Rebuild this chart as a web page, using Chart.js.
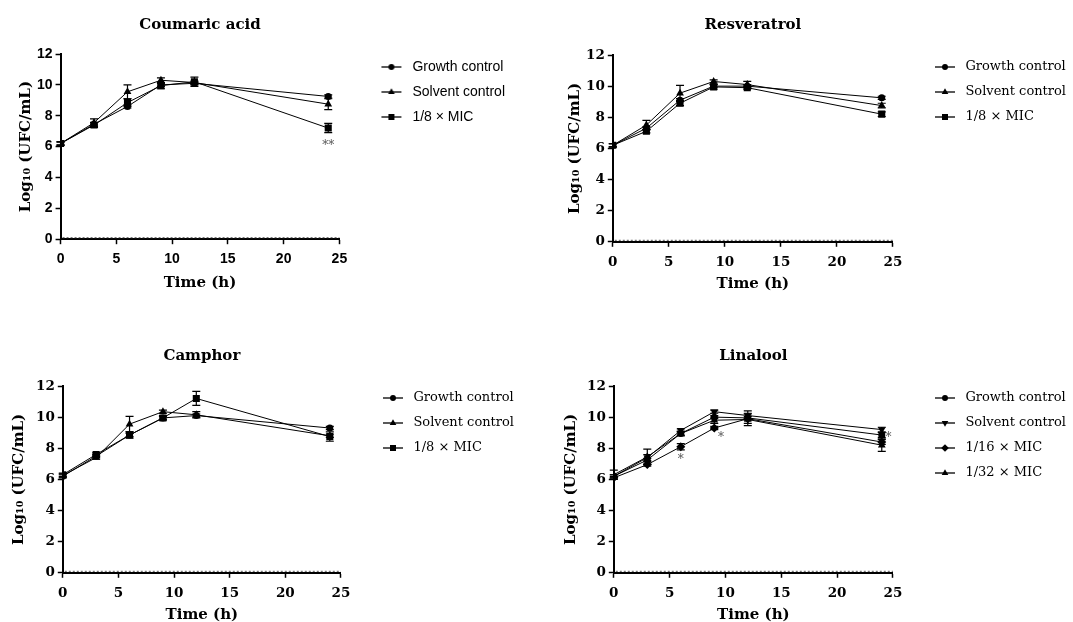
<!DOCTYPE html>
<html>
<head>
<meta charset="utf-8">
<script src="https://cdn.jsdelivr.net/npm/chart.js@4.4.1/dist/chart.umd.min.js"></script>
<style>
  html, body { margin: 0; padding: 0; background: #fff; overflow: hidden; }
  #wrap { position: relative; width: 1073px; height: 622px; }
  .panel { position: absolute; }
</style>
</head>
<body>
<div id="wrap">
  <div class="panel" style="left:0;top:0"><canvas id="coumaric" width="536" height="311"></canvas></div>
  <div class="panel" style="left:536px;top:0"><canvas id="resveratrol" width="537" height="311"></canvas></div>
  <div class="panel" style="left:0;top:311px"><canvas id="camphor" width="536" height="311"></canvas></div>
  <div class="panel" style="left:536px;top:311px"><canvas id="linalool" width="537" height="311"></canvas></div>
</div>
<script>
// sampling times (h)
const hours = [0, 3, 6, 9, 12, 24];

// Coumaric acid
const coumaricGrowth = [6.2, 7.45, 8.6, 10.0, 10.1, 9.25];
const coumaricGrowthSd = [0.1, 0.1, 0.1, 0.1, 0.1, 0.1];
const coumaricSolvent = [6.2, 7.55, 9.55, 10.3, 10.15, 8.75];
const coumaricSolventSd = [0.1, 0.25, 0.45, 0.15, 0.1, 0.35];
const coumaricMic8 = [6.2, 7.4, 8.85, 9.95, 10.2, 7.2];
const coumaricMic8Sd = [0.1, 0.15, 0.25, 0.2, 0.3, 0.3];
const coumaricStars = [{ x: 24, y: 6.2, text: '**' }];

// Resveratrol
const resvGrowth = [6.2, 7.3, 9.1, 10.0, 10.0, 9.25];
const resvGrowthSd = [0.1, 0.1, 0.1, 0.1, 0.1, 0.1];
const resvSolvent = [6.2, 7.5, 9.55, 10.3, 10.1, 8.75];
const resvSolventSd = [0.1, 0.3, 0.5, 0.1, 0.2, 0.15];
const resvMic8 = [6.2, 7.1, 8.9, 9.95, 9.9, 8.2];
const resvMic8Sd = [0.1, 0.1, 0.15, 0.15, 0.1, 0.15];

// Camphor
const camphorGrowth = [6.2, 7.5, 8.85, 9.95, 10.1, 9.3];
const camphorGrowthSd = [0.1, 0.1, 0.1, 0.1, 0.1, 0.1];
const camphorSolvent = [6.25, 7.4, 9.55, 10.35, 10.15, 8.8];
const camphorSolventSd = [0.1, 0.1, 0.5, 0.1, 0.2, 0.1];
const camphorMic8 = [6.3, 7.6, 8.85, 9.95, 11.2, 8.75];
const camphorMic8Sd = [0.1, 0.1, 0.2, 0.15, 0.45, 0.3];

// Linalool
const linGrowth = [6.2, 7.25, 8.95, 10.0, 9.95, 8.85];
const linGrowthSd = [0.1, 0.1, 0.1, 0.1, 0.1, 0.15];
const linSolvent = [6.2, 7.4, 9.15, 10.35, 10.1, 9.2];
const linSolventSd = [0.1, 0.2, 0.1, 0.1, 0.3, 0.15];
const linMic16 = [6.1, 6.95, 8.1, 9.3, 9.9, 8.4];
const linMic16Sd = [0.1, 0.1, 0.2, 0.1, 0.3, 0.15];
const linMic32 = [6.3, 7.45, 8.95, 9.8, 9.85, 8.2];
const linMic32Sd = [0.3, 0.5, 0.15, 0.2, 0.4, 0.4];
const linaloolStars = [{ x: 6, y: 7.4, text: '*' }, { x: 9.6, y: 8.8, text: '*' }, { x: 24.6, y: 8.8, text: '*' }];

const SERIF = "'DejaVu Serif', serif";
const SANS = "'Liberation Sans', Arial, sans-serif";

// marker shapes
const CIRCLE = { pointStyle: 'circle', radius: 3.5, rotation: 0 };
const TRIANGLE = { pointStyle: 'triangle', radius: 4.5, rotation: 0 };
const TRIANGLE_DOWN = { pointStyle: 'triangle', radius: 4.5, rotation: 180 };
const SQUARE = { pointStyle: 'rect', radius: 5, rotation: 0 };
const DIAMOND = { pointStyle: 'rectRot', radius: 4.5, rotation: 0 };

// legend swatch: line + marker, sitting at the right end of a wider blank strip
function legendIcon(marker, w) {
  const c = document.createElement('canvas');
  c.width = w; c.height = 12;
  const g = c.getContext('2d');
  g.strokeStyle = '#000'; g.fillStyle = '#000'; g.lineWidth = 1.3;
  g.beginPath(); g.moveTo(w - 24, 6); g.lineTo(w - 4, 6); g.stroke();
  Chart.helpers.drawPoint(g, { pointStyle: marker.pointStyle, rotation: marker.rotation, radius: marker.radius * 0.85, borderWidth: 0 }, w - 14, 6);
  return c;
}

function series(label, values, sd, marker) {
  return {
    label: label,
    data: values.map((v, i) => ({ x: hours[i], y: v })),
    sd: sd,
    marker: marker,
    borderColor: '#000',
    backgroundColor: '#000',
    borderWidth: 1,
    pointStyle: marker.pointStyle,
    pointRotation: marker.rotation,
    pointRadius: marker.radius,
    pointBorderWidth: 0,
    tension: 0
  };
}

// error bars, significance marks and the hatched baseline
const extras = {
  id: 'extras',
  beforeDatasetsDraw(chart) {
    const ctx = chart.ctx, y = chart.scales.y;
    ctx.save();
    ctx.strokeStyle = '#000';
    ctx.lineWidth = 1.2;
    chart.data.datasets.forEach((ds, i) => {
      const meta = chart.getDatasetMeta(i);
      meta.data.forEach((pt, j) => {
        const v = ds.data[j].y, e = ds.sd[j];
        const top = y.getPixelForValue(v + e), bot = y.getPixelForValue(v - e);
        ctx.beginPath();
        ctx.moveTo(pt.x, top); ctx.lineTo(pt.x, bot);
        ctx.moveTo(pt.x - 4, top); ctx.lineTo(pt.x + 4, top);
        ctx.moveTo(pt.x - 4, bot); ctx.lineTo(pt.x + 4, bot);
        ctx.stroke();
      });
    });
    ctx.restore();
  },
  afterDraw(chart, args, opts) {
    const ctx = chart.ctx, a = chart.chartArea;
    const xs = chart.scales.x, ys = chart.scales.y;
    ctx.save();
    ctx.strokeStyle = '#555';
    ctx.lineWidth = 1;
    ctx.setLineDash([2, 2]);
    ctx.beginPath();
    ctx.moveTo(a.left + 2, a.bottom - 1.5);
    ctx.lineTo(a.right, a.bottom - 1.5);
    ctx.stroke();
    ctx.setLineDash([]);
    ctx.fillStyle = '#555';
    ctx.font = '12px ' + SERIF;
    ctx.textAlign = 'center';
    ctx.textBaseline = 'middle';
    (opts.stars || []).forEach(s => {
      ctx.fillText(s.text, xs.getPixelForValue(s.x), ys.getPixelForValue(s.y) + 2);
    });
    ctx.restore();
  }
};

function panel(id, title, datasets, cfg) {
  const sans = cfg.sansTicks;
  const tickFont = sans
    ? { family: SANS, size: 14, weight: 'bold' }
    : { family: SERIF, size: 13.5, weight: 'bold' };
  const legendFont = sans ? { family: SANS, size: 14 } : { family: SERIF, size: 13 };
  const rowGap = 25 - legendFont.size;
  const iconW = sans ? 55 : 54;
  const legendTop = 51 - rowGap - legendFont.size / 2 - 12;
  datasets.forEach(ds => { ds.icon = legendIcon(ds.marker, iconW); });
  const titleFont = { family: SERIF, size: 15, weight: 'bold' };
  new Chart(document.getElementById(id), {
    type: 'line',
    data: { datasets: datasets },
    options: {
      responsive: false,
      animation: false,
      layout: { padding: cfg.padding },
      scales: {
        x: {
          type: 'linear', min: 0, max: 25,
          ticks: { stepSize: 5, color: '#000', font: tickFont, padding: sans ? 7 : 8 },
          grid: { drawOnChartArea: false, tickLength: 5, tickColor: '#000', tickWidth: 1.5 },
          border: { color: '#000', width: 2 },
          title: { display: true, text: 'Time (h)', color: '#000', font: titleFont, padding: { top: sans ? -1 : -4, bottom: 0 } }
        },
        y: {
          type: 'linear', min: 0, max: 12,
          ticks: { stepSize: 2, color: '#000', font: tickFont, padding: 3 },
          grid: { drawOnChartArea: false, tickLength: 5, tickColor: '#000', tickWidth: 1.5 },
          border: { color: '#000', width: 2 },
          title: { display: true, text: 'Log\u2081\u2080 (UFC/mL)', color: '#000', font: titleFont, padding: { top: 2, bottom: cfg.yGap } }
        }
      },
      plugins: {
        title: {
          display: true, text: title, color: '#000', fullSize: false,
          font: { family: SERIF, size: 15, weight: 'bold' },
          padding: { top: 0, bottom: cfg.titleGap }
        },
        legend: {
          position: 'right',
          align: 'start',
          maxWidth: 260,
          title: { display: true, text: ' ', font: { size: 10 }, padding: { top: legendTop, bottom: 0 } },
          labels: {
            usePointStyle: true,
            pointStyleWidth: iconW,
            padding: rowGap,
            color: '#000',
            font: legendFont,
            generateLabels: chart => chart.data.datasets.map((ds, i) => ({
              text: ds.label, pointStyle: ds.icon, datasetIndex: i, lineWidth: 0, fontColor: '#000', hidden: false
            }))
          }
        },
        tooltip: { enabled: false },
        extras: { stars: cfg.stars }
      }
    },
    plugins: [extras]
  });
}

panel('coumaric', 'Coumaric acid', [
  series('Growth control', coumaricGrowth, coumaricGrowthSd, CIRCLE),
  series('Solvent control', coumaricSolvent, coumaricSolventSd, TRIANGLE),
  series('1/8 \u00d7 MIC', coumaricMic8, coumaricMic8Sd, SQUARE)
], { sansTicks: true, stars: coumaricStars, yGap: -1, titleGap: 20, padding: { left: 15, top: 16, right: 21, bottom: 19 } });

panel('resveratrol', 'Resveratrol', [
  series('Growth control', resvGrowth, resvGrowthSd, CIRCLE),
  series('Solvent control', resvSolvent, resvSolventSd, TRIANGLE),
  series('1/8 \u00d7 MIC', resvMic8, resvMic8Sd, SQUARE)
], { yGap: -1, titleGap: 21, padding: { left: 28, top: 16, right: -3, bottom: 18 } });

panel('camphor', 'Camphor', [
  series('Growth control', camphorGrowth, camphorGrowthSd, CIRCLE),
  series('Solvent control', camphorSolvent, camphorSolventSd, TRIANGLE),
  series('1/8 \u00d7 MIC', camphorMic8, camphorMic8Sd, SQUARE)
], { yGap: 5, titleGap: 21, padding: { left: 8, top: 36, right: 12, bottom: -2 } });

panel('linalool', 'Linalool', [
  series('Growth control', linGrowth, linGrowthSd, CIRCLE),
  series('Solvent control', linSolvent, linSolventSd, TRIANGLE_DOWN),
  series('1/16 \u00d7 MIC', linMic16, linMic16Sd, DIAMOND),
  series('1/32 \u00d7 MIC', linMic32, linMic32Sd, TRIANGLE)
], { stars: linaloolStars, yGap: 4, titleGap: 21, padding: { left: 24, top: 36, right: -3, bottom: -2 } });
</script>
</body>
</html>
